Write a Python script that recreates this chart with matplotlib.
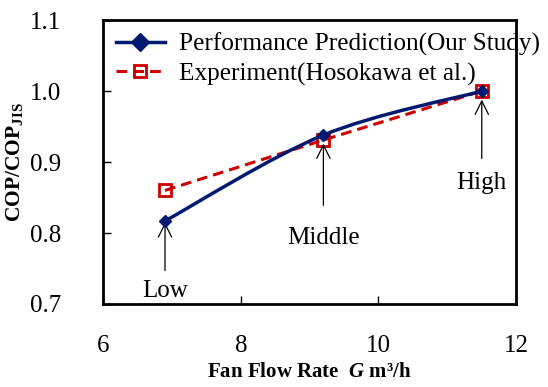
import numpy as np
import matplotlib.pyplot as plt
from matplotlib.path import Path
from matplotlib.patches import PathPatch
from matplotlib.lines import Line2D

# fan flow rate (m3/h) and normalised COP
flow = [6.9, 9.2, 11.5]
cop_pred = [0.817, 0.938, 1.0]
cop_exp = [0.86, 0.931, 1.0]
levels = ["Low", "Middle", "High"]

plt.rcParams['font.family'] = ['Liberation Serif', 'DejaVu Serif']
plt.rcParams['mathtext.fontset'] = 'custom'
plt.rcParams['mathtext.rm'] = 'Liberation Serif'
plt.rcParams['mathtext.it'] = 'Liberation Serif:italic:bold'
plt.rcParams['mathtext.bf'] = 'Liberation Serif:bold'

blue = '#001a70'
red = '#cc0000'
fs = 18

fig = plt.figure(figsize=(5.48, 3.87), dpi=100)
ax = fig.add_axes([0.188, 0.2145, 0.754, 0.7335])


def smooth_path(xs, ys, t=1 / 6):
    # Excel-style smoothed line: Catmull-Rom as cubic Bezier segments
    pts = np.column_stack([xs, ys])
    verts = [pts[0]]
    codes = [Path.MOVETO]
    n = len(pts)
    for i in range(n - 1):
        p0 = pts[i - 1] if i > 0 else pts[i]
        p1, p2 = pts[i], pts[i + 1]
        p3 = pts[i + 2] if i + 2 < n else pts[i + 1]
        verts += [p1 + (p2 - p0) * t, p2 - (p3 - p1) * t, p2]
        codes += [Path.CURVE4] * 3
    return Path(verts, codes)


ax.plot(flow, cop_exp, '--', color=red, lw=2.2, dashes=(3.5, 2),
        marker='s', ms=9, mfc='none', mec=red, mew=2, zorder=3)
ax.add_patch(PathPatch(smooth_path(flow, cop_pred), fc='none', ec=blue, lw=2.5, zorder=4))
ax.plot(flow, cop_pred, ls='none', marker='D', ms=6.5, color=blue, zorder=5)

# arrows and labels for Low / Middle / High
arrow_tail = [0.747, 0.839, 0.905]
arrow_head = [0.815, 0.926, 0.988]
text_y = [0.719, 0.793, 0.87]
for x, lab, yt, yh, ty in zip(flow, levels, arrow_tail, arrow_head, text_y):
    ax.annotate("", xy=(x, yh), xytext=(x, yt),
                arrowprops=dict(arrowstyle='->', color='black', lw=0.9,
                                mutation_scale=24, shrinkA=0, shrinkB=0))
    ax.text(x, ty, lab, ha='center', va='center', fontsize=fs)

ax.set_xlim(6, 12)
ax.set_ylim(0.7, 1.1)
ax.set_xticks([6, 8, 10, 12])
ax.set_yticks([0.7, 0.8, 0.9, 1.0, 1.1])
ax.set_yticklabels(["0.7", "0.8", "0.9", "1.0", "1.1"])
ax.tick_params(direction='in', length=6, width=1, labelsize=fs)
ax.tick_params(axis='x', pad=22)
ax.tick_params(axis='y', pad=30)
for s in ax.spines.values():
    s.set_linewidth(2)

ax.set_xlabel(r"Fan Flow Rate  $\mathit{G}$ m³/h", fontsize=15, fontweight='bold', labelpad=4)
ax.set_ylabel(r"COP/COP$_{\mathbf{JIS}}$", fontsize=15.5, fontweight='bold', labelpad=4)

handles = [Line2D([], [], color=blue, lw=2.5, marker='D', ms=9),
           Line2D([], [], color=red, lw=2.2, ls='--', dashes=(3.5, 2), marker='s', ms=9,
                  mfc='none', mec=red, mew=2)]
leg = ax.legend(handles, ["Performance Prediction(Our Study)", "Experiment(Hosokawa et al.)"],
                loc='upper left', bbox_to_anchor=(0.0, 1.0), frameon=False, fontsize=18.2,
                handlelength=1.95, handletextpad=0.55, labelspacing=0.25, borderaxespad=0.2,
                borderpad=0.3)
leg.set_clip_on(False)

fig.savefig('out.png', dpi=100)
